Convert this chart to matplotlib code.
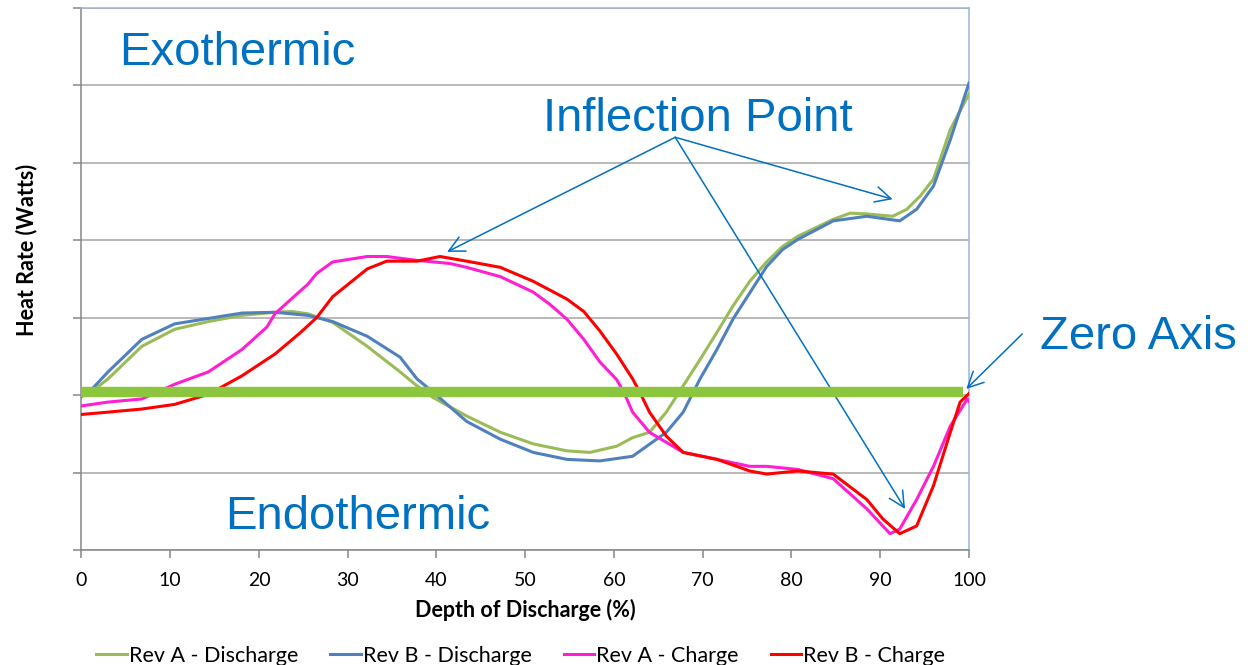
import matplotlib
matplotlib.use("Agg")
import matplotlib.pyplot as plt

# depth of discharge (%) / heat rate (arbitrary grid units)
revA_dis_x = [0, 1.2, 3.0, 6.8, 10.5, 14.3, 18.1, 21.8, 23.7, 25.5, 28.3, 32.2, 35.9, 37.8, 39.6,
              43.4, 47.2, 50.9, 54.7, 57.3, 60.3, 62.1, 64.0, 65.9, 67.8, 69.7, 71.6, 73.4, 75.3,
              77.2, 79.0, 80.7, 84.7, 86.6, 88.5, 91.4, 93.0, 94.5, 96.0, 97.9, 100]
revA_dis_y = [0.0, 0.05, 0.21, 0.63, 0.85, 0.95, 1.03, 1.07, 1.08, 1.05, 0.94, 0.63, 0.30, 0.12, -0.03,
              -0.27, -0.48, -0.63, -0.72, -0.74, -0.66, -0.55, -0.48, -0.22, 0.12, 0.46, 0.81, 1.15, 1.47,
              1.72, 1.92, 2.05, 2.27, 2.35, 2.34, 2.31, 2.40, 2.57, 2.79, 3.43, 3.89]

revB_dis_x = [0, 1.2, 3.0, 6.8, 10.5, 14.3, 18.1, 21.8, 25.5, 28.3, 32.2, 35.9, 37.8, 39.6, 41.5,
              43.4, 47.2, 50.9, 54.7, 58.4, 62.1, 65.9, 67.8, 69.7, 71.6, 73.4, 75.3, 77.2, 79.0,
              80.7, 84.7, 88.5, 92.2, 94.1, 96.0, 97.9, 100]
revB_dis_y = [-0.02, 0.08, 0.30, 0.72, 0.92, 0.99, 1.06, 1.07, 1.03, 0.95, 0.76, 0.49, 0.21, 0.04, -0.15,
              -0.34, -0.57, -0.74, -0.83, -0.85, -0.79, -0.48, -0.22, 0.21, 0.59, 0.98, 1.32, 1.66, 1.88,
              2.01, 2.25, 2.31, 2.25, 2.40, 2.70, 3.30, 4.03]

revA_chg_x = [0, 3.0, 6.8, 10.5, 14.3, 18.1, 20.9, 21.8, 24.6, 25.5, 26.5, 28.3, 32.2, 34.4, 37.8,
              41.5, 43.4, 47.2, 50.9, 52.8, 54.7, 56.6, 58.4, 60.3, 61.1, 62.1, 64.0, 67.8, 71.6,
              75.3, 77.2, 80.7, 84.7, 88.5, 91.1, 92.2, 94.1, 96.0, 97.9, 99.8, 100]
revA_chg_y = [-0.14, -0.09, -0.05, 0.14, 0.30, 0.59, 0.88, 1.05, 1.34, 1.43, 1.57, 1.72, 1.79, 1.79, 1.74,
              1.70, 1.65, 1.53, 1.33, 1.17, 0.98, 0.72, 0.43, 0.20, 0.04, -0.22, -0.48, -0.74, -0.83,
              -0.92, -0.92, -0.96, -1.08, -1.47, -1.79, -1.73, -1.35, -0.92, -0.40, -0.05, -0.08]

revB_chg_x = [0, 3.0, 6.8, 10.5, 14.3, 18.1, 21.8, 24.6, 26.5, 28.3, 32.2, 34.4, 37.8, 40.4, 43.4,
              47.2, 50.9, 54.7, 56.6, 58.4, 60.3, 62.1, 62.9, 64.0, 65.9, 67.8, 71.6, 75.3, 77.2,
              80.7, 84.7, 88.5, 90.3, 92.2, 94.1, 96.0, 97.9, 99.0, 100]
revB_chg_y = [-0.25, -0.22, -0.18, -0.12, 0.01, 0.25, 0.53, 0.80, 1.00, 1.27, 1.63, 1.73, 1.73, 1.79, 1.73,
              1.65, 1.47, 1.24, 1.08, 0.83, 0.53, 0.21, 0.04, -0.22, -0.53, -0.74, -0.83, -0.98, -1.02,
              -0.98, -1.02, -1.35, -1.60, -1.79, -1.69, -1.17, -0.48, -0.09, 0.02]

zero_x = [0, 99.3]
zero_y = [0.04, 0.04]

xticks = [0, 10, 20, 30, 40, 50, 60, 70, 80, 90, 100]
yticks = [-2, -1, 0, 1, 2, 3, 4, 5]

blue_txt = '#0070C0'
label_font = ['Lato', 'DejaVu Sans']
big_font = ['Liberation Sans', 'DejaVu Sans']

fig = plt.figure(figsize=(12.55, 6.65), dpi=100)
ax = fig.add_axes([0.0649, 0.173, 0.7072, 0.815])

ax.plot(revA_dis_x, revA_dis_y, color='#9BBB59', lw=2.2, label='Rev A - Discharge', zorder=3)
ax.plot(revB_dis_x, revB_dis_y, color='#4F81BD', lw=2.2, label='Rev B - Discharge', zorder=3)
ax.plot(revA_chg_x, revA_chg_y, color='#FF1FD2', lw=2.2, label='Rev A - Charge', zorder=3)
ax.plot(revB_chg_x, revB_chg_y, color='#FF0000', lw=2.2, label='Rev B - Charge', zorder=4)
ax.plot(zero_x, zero_y, color='#8CC63F', lw=7.5, solid_capstyle='butt', zorder=5)

ax.set_xlim(0, 100)
ax.set_ylim(-2, 5)
ax.set_xticks(xticks)
ax.set_yticks(yticks)
ax.set_yticklabels([])
ax.grid(axis='y', color='#A6A6A6', lw=1.1)
ax.set_axisbelow(True)
ax.tick_params(axis='both', direction='out', length=6, width=1.1, color='#868686')
ax.tick_params(axis='x', labelsize=14, pad=10)
for t in ax.get_xticklabels():
    t.set_family(label_font)

for s in ['left', 'bottom']:
    ax.spines[s].set_color('#868686')
    ax.spines[s].set_linewidth(1.1)
for s in ['top', 'right']:
    ax.spines[s].set_color('#9DB5D8')
    ax.spines[s].set_linewidth(1.1)

ax.set_xlabel('Depth of Discharge (%)', fontsize=15.5, fontweight='bold', family=label_font)
ax.xaxis.set_label_coords(0.5, -0.09)
ax.set_ylabel('Heat Rate (Watts)', fontsize=15.5, fontweight='bold', family=label_font)
ax.yaxis.set_label_coords(-0.05, 0.553)

txt = dict(color=blue_txt, fontsize=34, family=big_font, va='center', ha='left', clip_on=False)
ax.text(4.3, 4.42, 'Exothermic', **txt)
ax.text(52.0, 3.57, 'Inflection Point', **txt)
ax.text(16.2, -1.57, 'Endothermic', **txt)
ax.text(108.0, 0.75, 'Zero Axis', **txt)

arrow = dict(arrowstyle='->', color=blue_txt, lw=1.1, mutation_scale=28, shrinkA=0, shrinkB=0)
for tip in [(41.2, 1.85), (91.4, 2.53), (92.8, -1.47)]:
    ax.annotate('', xy=tip, xytext=(66.9, 3.33), arrowprops=arrow, annotation_clip=False)
ax.annotate('', xy=(99.7, 0.08), xytext=(106.0, 0.79), arrowprops=arrow, annotation_clip=False)

fig.legend(loc='center', bbox_to_anchor=(0.415, 0.014), ncol=4, frameon=False,
           prop={'family': label_font, 'size': 15.5}, handlelength=1.4, handletextpad=0.1,
           columnspacing=1.5)

fig.savefig('out.png', dpi=100)
